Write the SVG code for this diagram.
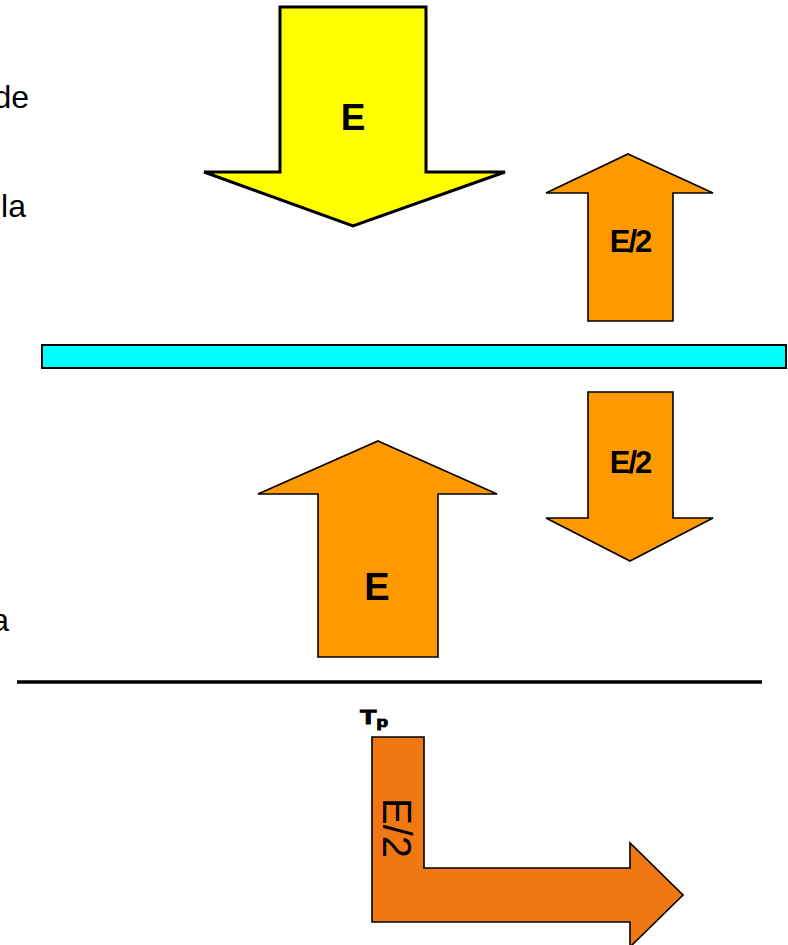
<svg xmlns="http://www.w3.org/2000/svg" width="788" height="945" viewBox="0 0 788 945">
  <style>
    .side { font-family: "Liberation Sans", Arial, sans-serif; font-size: 32px; fill: #000; }
    .lbl { font-family: "Liberation Sans", Arial, sans-serif; font-weight: bold; fill: #000; text-anchor: middle; }
    .half { font-size: 31px; letter-spacing: -2px; }
    .orange { fill: #FF9900; stroke: #000; stroke-width: 1.6; stroke-linejoin: miter; }
  </style>
  <rect width="788" height="945" fill="#fff"/>

  <!-- clipped side text -->
  <g id="side-text">
    <text class="side" x="29" y="108" text-anchor="end">de</text>
    <text class="side" x="26" y="217" text-anchor="end">la</text>
    <text class="side" x="9" y="631" text-anchor="end">a</text>
  </g>

  <!-- incident energy -->
  <g id="incident">
    <polygon points="280,7 426,7 426,172 505,172 353,226 204,172 280,172" fill="#FFFF00" stroke="#000" stroke-width="3" stroke-linejoin="miter"/>
    <text class="lbl" x="353" y="130" font-size="37">E</text>
  </g>

  <!-- upward half above the layer -->
  <g id="up-half">
    <polygon class="orange" points="628,154 713,193 673,193 673,321 588,321 588,193 546,193"/>
    <text class="lbl half" x="630" y="252">E/2</text>
  </g>

  <!-- layer -->
  <g id="layer">
    <rect x="42" y="345" width="744" height="23" fill="#00FFFF" stroke="#000" stroke-width="2"/>
  </g>

  <!-- downward half below the layer -->
  <g id="down-half">
    <polygon class="orange" points="588,392 673,392 673,518 713,518 630,561 546,518 588,518"/>
    <text class="lbl half" x="630" y="473">E/2</text>
  </g>

  <!-- upward full energy -->
  <g id="up-full">
    <polygon class="orange" points="378,441 497,494 438,494 438,657 318,657 318,494 258,494"/>
    <text class="lbl" x="377" y="600" font-size="38">E</text>
  </g>

  <!-- surface line -->
  <g id="surface">
    <line x1="17" y1="682" x2="762" y2="682" stroke="#000" stroke-width="3.5"/>
  </g>

  <!-- Tp bent arrow -->
  <g id="tp">
    <text class="lbl" transform="translate(374,724) scale(1.35,1)" x="0" y="0" font-size="20" text-anchor="start" stroke="#000" stroke-width="0.9">T<tspan font-size="14" dy="3">p</tspan></text>
    <polygon points="372,737 424,737 424,868 630,868 630,843 683,895 630,947 630,922 372,922" fill="#F07814" stroke="#000" stroke-width="1.6"/>
    <text transform="translate(383,828) rotate(90)" font-family="'Liberation Sans', Arial, sans-serif" font-size="40" text-anchor="middle" fill="#000">E/2</text>
  </g>
</svg>
